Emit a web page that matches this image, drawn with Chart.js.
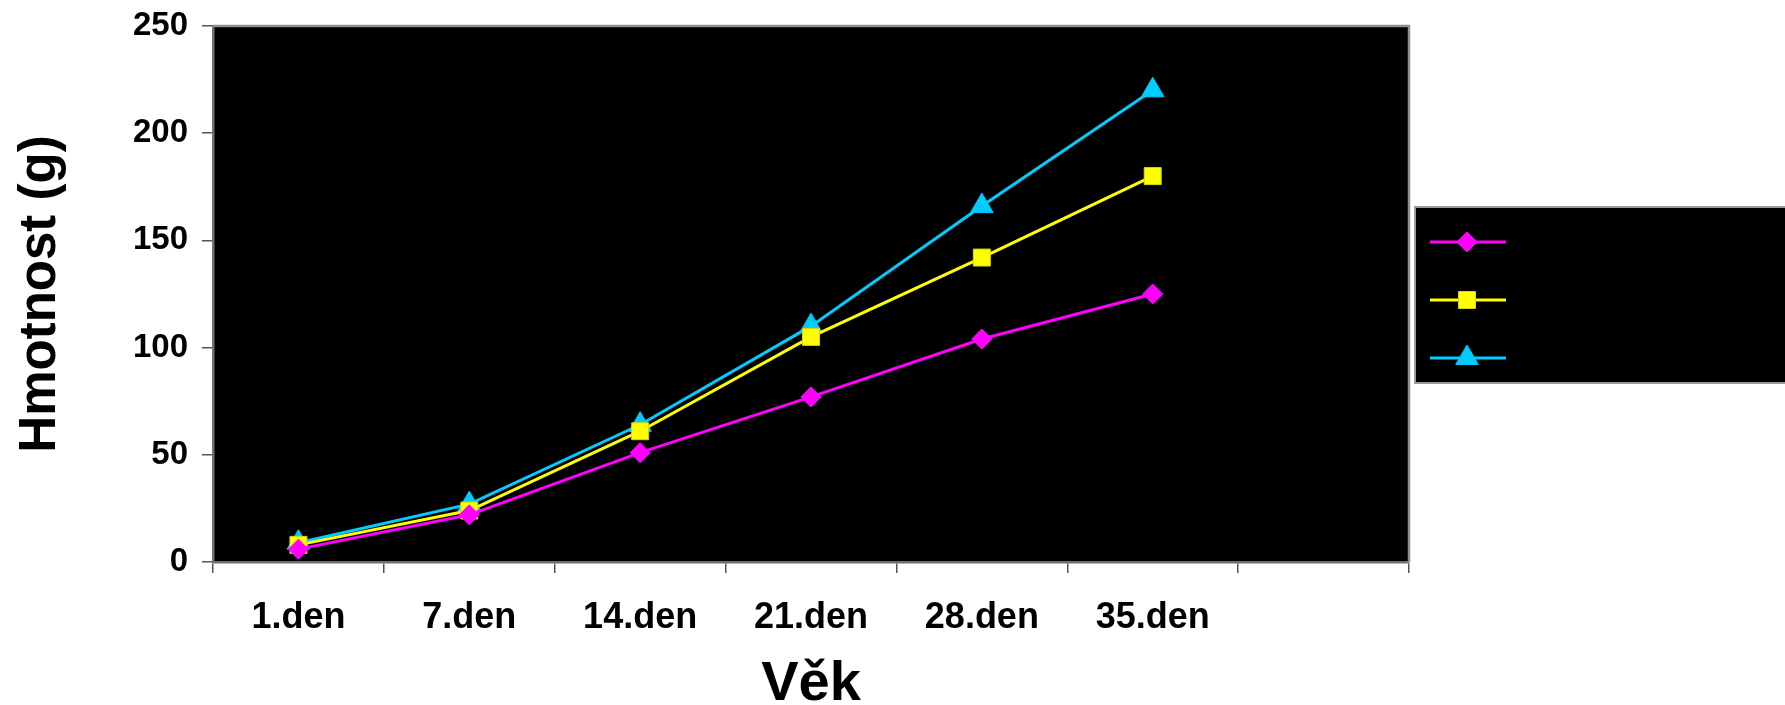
<!DOCTYPE html>
<html>
<head>
<meta charset="utf-8">
<script src="https://cdn.jsdelivr.net/npm/chart.js@4/dist/chart.umd.min.js"></script>
<style>
  body { margin: 0; background: #fff; }
  #wrap { width: 1785px; height: 705px; }
</style>
</head>
<body>
<div id="wrap"><canvas id="myChart" width="1785" height="705"></canvas></div>
<script>
// data
var labels = ['1.den', '7.den', '14.den', '21.den', '28.den', '35.den', ''];
var seriesMagenta = [6, 22, 51, 77, 104, 125];
var seriesYellow = [8, 24, 61, 105, 142, 180];
var seriesCyan = [9, 27, 64, 110, 166, 220];
var yTicks = [0, 50, 100, 150, 200, 250];

const FONT = "'Liberation Sans', Arial, sans-serif";

// black plot area with grey frame
const plotFrame = {
  id: 'plotFrame',
  beforeDraw(chart) {
    const {ctx, chartArea: a} = chart;
    ctx.save();
    ctx.fillStyle = '#000';
    ctx.fillRect(a.left, a.top, a.right - a.left, a.bottom - a.top);
    ctx.restore();
  },
  beforeDatasetsDraw(chart) {
    const {ctx, chartArea: a} = chart;
    ctx.save();
    ctx.strokeStyle = '#8f8f8f';
    ctx.lineWidth = 2.5;
    ctx.beginPath();
    ctx.moveTo(a.left, a.top);
    ctx.lineTo(a.right, a.top);
    ctx.lineTo(a.right, a.bottom);
    ctx.stroke();
    ctx.restore();
  }
};

// legend: black box, line + marker per series, no text
const boxLegend = {
  id: 'boxLegend',
  afterDraw(chart) {
    const ctx = chart.ctx;
    const x0 = chart.chartArea.right + 6;
    const y0 = 207;
    ctx.save();
    ctx.fillStyle = '#000';
    ctx.fillRect(x0, y0, 420, 176);
    ctx.strokeStyle = '#9a9a9a';
    ctx.lineWidth = 2;
    ctx.strokeRect(x0, y0, 420, 176);
    chart.data.datasets.forEach(function (ds, i) {
      const y = y0 + 35 + i * 58;
      ctx.strokeStyle = ds.borderColor;
      ctx.lineWidth = ds.borderWidth;
      ctx.beginPath();
      ctx.moveTo(x0 + 15, y);
      ctx.lineTo(x0 + 91, y);
      ctx.stroke();
      ctx.fillStyle = ds.pointBackgroundColor;
      ctx.strokeStyle = ds.pointBorderColor;
      ctx.lineWidth = 1;
      Chart.helpers.drawPoint(ctx, {
        pointStyle: ds.pointStyle,
        radius: ds.pointRadius,
        rotation: 0,
        borderWidth: 1
      }, x0 + 52, y);
    });
    ctx.restore();
  }
};

const data = {
  labels: labels,
  datasets: [
    {
      label: '',
      data: seriesMagenta,
      borderColor: '#ff00ff',
      backgroundColor: '#ff00ff',
      pointBackgroundColor: '#ff00ff',
      pointBorderColor: '#ff00ff',
      borderWidth: 3,
      pointStyle: 'rectRot',
      pointRadius: 10,
      pointBorderWidth: 1,
      tension: 0
    },
    {
      label: '',
      data: seriesYellow,
      borderColor: '#ffff00',
      backgroundColor: '#ffff00',
      pointBackgroundColor: '#ffff00',
      pointBorderColor: '#d8d800',
      borderWidth: 3,
      pointStyle: 'rect',
      pointRadius: 12,
      pointBorderWidth: 1,
      tension: 0
    },
    {
      label: '',
      data: seriesCyan,
      borderColor: '#00ccff',
      backgroundColor: '#00ccff',
      pointBackgroundColor: '#00ccff',
      pointBorderColor: '#00ccff',
      borderWidth: 3,
      pointStyle: 'triangle',
      pointRadius: 13,
      pointBorderWidth: 1,
      tension: 0
    }
  ]
};

const config = {
  type: 'line',
  data,
  plugins: [plotFrame, boxLegend],
  options: {
    responsive: false,
    animation: false,
    layout: { padding: { top: 26, right: 376, left: 0, bottom: 0 } },
    plugins: {
      legend: { display: false },
      tooltip: { enabled: false }
    },
    scales: {
      x: {
        type: 'category',
        offset: true,
        grid: { offset: true, drawOnChartArea: false, drawTicks: true, tickLength: 11, color: '#555', lineWidth: 1.5 },
        border: { display: true, color: '#707070', width: 2.5 },
        ticks: { color: '#000', font: { family: FONT, size: 36, weight: 'bold' }, padding: 23, maxRotation: 0, autoSkip: false },
        title: { display: true, text: 'Věk', color: '#000', font: { family: FONT, size: 56, weight: 'bold', lineHeight: 0.72 }, padding: { top: 0, bottom: 0 } },
        afterFit(s) { s.height = 143; s.paddingLeft = 0; s.paddingRight = 0; }
      },
      y: {
        min: yTicks[0],
        max: yTicks[yTicks.length - 1],
        afterBuildTicks(s) { s.ticks = yTicks.map(v => ({ value: v })); },
        grid: { drawOnChartArea: false, drawTicks: true, tickLength: 11, color: '#555', lineWidth: 1.5 },
        border: { display: true, color: '#707070', width: 2.5 },
        ticks: { color: '#000', font: { family: FONT, size: 33, weight: 'bold' }, padding: 14 },
        title: { display: true, text: 'Hmotnost (g)', color: '#000', font: { family: FONT, size: 51, weight: 'bold', lineHeight: 1 }, padding: { top: 15, bottom: 0 } },
        afterFit(s) { s.width = 213; s.paddingTop = 0; s.paddingBottom = 0; }
      }
    }
  }
};

var myChart = new Chart(document.getElementById('myChart'), config);
</script>
</body>
</html>
